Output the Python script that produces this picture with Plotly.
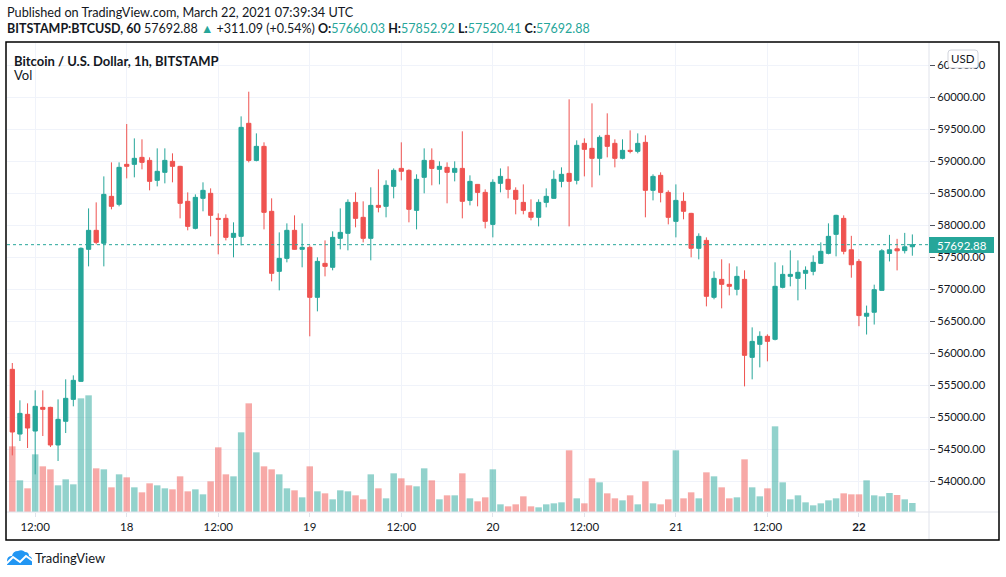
import pandas as pd
import plotly.graph_objects as go

# Hourly candles, BITSTAMP:BTCUSD, 17 Mar 2021 09:00 -> 22 Mar 2021 07:00 (UTC)
first_candle = "2021-03-17 09:00"

opens = [
    55745, 54734, 55042, 54781, 55151, 55151, 54563, 54933, 55276, 55557,
    57620, 57917, 57714, 58448, 58323, 58948, 58948, 59057, 59010, 58698,
    58823, 58995, 58917, 58370, 57948, 58417, 58495, 58104, 58104, 57807,
    57823, 59589, 59010, 59229, 58214, 57276, 57479, 57917, 57620, 57651,
    56870, 57401, 57339, 57792, 57870, 58354, 58120, 57792, 58307, 58292,
    58604, 58885, 58854, 58229, 58745, 59010, 58870, 58901, 58823, 58885,
    58385, 58635, 58510, 58010, 58651, 58714, 58542, 58354, 58198, 58120,
    58354, 58417, 58682, 58807, 58698, 59276, 59198, 59042, 59401, 59276,
    59042, 59167, 59151, 59292, 58542, 58776, 58510, 58057, 58370, 58182,
    57636, 57760, 56870, 57151, 57073, 56995, 57151, 55932, 56136, 56261,
    56214, 57026, 57198, 57167, 57245, 57276, 57401, 57557, 57854, 58104,
    57613, 57431, 56575, 56637, 56979, 57556, 57628, 57600, 57660.03,
]
highs = [
    55844, 55261, 55214, 55417, 55417, 55160, 55276, 55589, 55651, 57651,
    58260, 58354, 58760, 58979, 58979, 59578, 59354, 59339, 59057, 59198,
    59198, 59120, 58925, 58510, 58479, 58667, 58573, 58182, 58167, 58042,
    59698, 60083, 59432, 59292, 58417, 57885, 58026, 58151, 58026, 57682,
    57495, 57760, 57901, 58260, 58401, 58510, 58370, 58589, 58870, 58698,
    58885, 59292, 58870, 58792, 59198, 59198, 58995, 58979, 58995, 59464,
    58776, 58640, 58557, 58714, 58885, 58917, 58589, 58635, 58401, 58401,
    58573, 58854, 58901, 59964, 59323, 59354, 59901, 59401, 59745, 59339,
    59339, 59479, 59432, 59401, 58792, 58823, 58542, 58635, 58510, 58190,
    57870, 57807, 57276, 57464, 57401, 57354, 57292, 56401, 56339, 56292,
    57417, 57370, 57604, 57448, 57354, 57526, 57729, 58026, 58160, 58151,
    57831, 57467, 56741, 57068, 57623, 57846, 57784, 57877, 57852.92,
]
lows = [
    54401, 54625, 54516, 54104, 54703, 54531, 54313, 54750, 55167, 55550,
    57354, 57698, 57354, 58245, 58292, 58729, 58745, 58870, 58542, 58604,
    58651, 58667, 58104, 57917, 57932, 58214, 57823, 57542, 57760, 57495,
    57682, 58979, 58995, 57932, 57120, 56979, 57417, 57615, 57339, 56261,
    56651, 57198, 57292, 57620, 57604, 57964, 57729, 57448, 58198, 58120,
    58417, 58698, 58042, 57932, 58495, 58620, 58635, 58339, 58682, 58104,
    58307, 58292, 57948, 57807, 58510, 58417, 58167, 58167, 58073, 57979,
    58276, 58410, 58589, 57979, 58635, 58760, 58589, 58776, 59057, 58901,
    59026, 59120, 59120, 58120, 58385, 58354, 58010, 57807, 58089, 57495,
    57464, 56729, 56839, 56698, 56901, 56901, 55479, 55589, 55776, 55870,
    56198, 57010, 57042, 56823, 56995, 57214, 57395, 57542, 57510, 57542,
    57177, 56419, 56289, 56445, 56975, 57431, 57291, 57556, 57520.41,
]
closes = [
    54766, 55057, 54828, 55167, 55120, 54563, 54964, 55292, 55573, 57636,
    57917, 57729, 58479, 58292, 58901, 58917, 59042, 58979, 58682, 58839,
    59010, 58917, 58339, 57979, 58432, 58542, 58151, 58089, 57807, 57870,
    59526, 59010, 59229, 58198, 57245, 57479, 57917, 57620, 57651, 56870,
    57432, 57354, 57807, 57885, 58354, 58104, 57792, 58307, 58276, 58620,
    58854, 58839, 58245, 58714, 59010, 58885, 58917, 58823, 58885, 58370,
    58682, 58510, 58057, 58667, 58760, 58557, 58401, 58229, 58120, 58354,
    58448, 58714, 58792, 58682, 59245, 59182, 59042, 59370, 59229, 59042,
    59167, 59151, 59276, 58542, 58760, 58510, 58120, 58385, 58214, 57636,
    57823, 56886, 57167, 57073, 57042, 57198, 55964, 56182, 56261, 56182,
    57042, 57229, 57229, 57261, 57292, 57417, 57589, 57823, 58151, 57589,
    57379, 56585, 56621, 56990, 57597, 57613, 57597, 57660, 57692.88,
]
volumes = [
    197, 95, 71, 173, 137, 128, 80, 98, 83, 341,
    350, 131, 128, 74, 113, 104, 74, 59, 86, 80,
    71, 68, 107, 62, 68, 53, 92, 194, 113, 107,
    239, 326, 179, 137, 128, 113, 71, 65, 44, 137,
    62, 56, 38, 65, 62, 50, 38, 113, 71, 41,
    116, 101, 80, 77, 131, 95, 38, 50, 50, 116,
    41, 32, 44, 128, 23, 17, 23, 47, 17, 14,
    23, 26, 29, 185, 41, 26, 101, 89, 56, 41,
    35, 50, 23, 92, 26, 23, 38, 185, 41, 59,
    41, 119, 107, 74, 41, 44, 158, 74, 47, 71,
    257, 89, 38, 50, 29, 20, 26, 35, 41, 56,
    53, 53, 95, 50, 47, 57, 51, 38, 27,
]

time_tick_values = [
    "2021-03-17 12:00", "2021-03-18 00:00", "2021-03-18 12:00", "2021-03-19 00:00",
    "2021-03-19 12:00", "2021-03-20 00:00", "2021-03-20 12:00", "2021-03-21 00:00",
    "2021-03-21 12:00", "2021-03-22 00:00",
]
time_tick_labels = ["12:00", "18", "12:00", "19", "12:00", "20", "12:00", "21", "12:00", "<b>22</b>"]
price_ticks = [54000, 54500, 55000, 55500, 56000, 56500, 57000, 57500,
               58000, 58500, 59000, 59500, 60000, 60500]
last_price = 57692.88

GREEN = "#26a69a"
RED = "#ef5350"
TEXT = "#131722"
GRID = "#f0f3fa"
BORDER = "#e0e3eb"
FONT = "Lato"

# Plot area in page pixels (figure is 1006 x 577)
W, H = 1006, 577
PLOT_L, PLOT_R, PLOT_T, PLOT_B = 7, 929, 43, 512


def px_x(x):
    """Page pixel -> paper x."""
    return (x - PLOT_L) / (PLOT_R - PLOT_L)


def px_y(y):
    """Page pixel -> paper y."""
    return (PLOT_B - y) / (PLOT_B - PLOT_T)


def pixel_path(commands):
    """Build an SVG path in paper coords from (cmd, [x, y, ...]) pixel tuples."""
    parts = []
    for cmd, pts in commands:
        coords = []
        for i in range(0, len(pts), 2):
            coords.append(f"{px_x(pts[i]):.5f},{px_y(pts[i + 1]):.5f}")
        parts.append(cmd + " " + " ".join(coords))
    return " ".join(parts) + " Z"


def build_figure() -> go.Figure:
    times = pd.date_range(first_candle, periods=len(opens), freq="h")
    vol_colors = [
        "rgba(38,166,154,0.5)" if c >= o else "rgba(239,83,80,0.5)"
        for o, c in zip(opens, closes)
    ]

    fig = go.Figure()

    # Volume on the base (hidden) axis so the candles sit on top of it
    fig.add_trace(go.Bar(
        x=times, y=volumes, yaxis="y",
        marker=dict(color=vol_colors, line=dict(width=0)),
        width=0.85 * 3600 * 1000,
        hoverinfo="skip",
    ))

    fig.add_trace(go.Candlestick(
        x=times, open=opens, high=highs, low=lows, close=closes, yaxis="y2",
        increasing=dict(line=dict(color=GREEN, width=1), fillcolor=GREEN),
        decreasing=dict(line=dict(color=RED, width=1), fillcolor=RED),
        whiskerwidth=0,
        hoverinfo="skip",
    ))

    shapes = [
        # last price dotted line
        dict(type="line", xref="paper", yref="y2", x0=0, x1=1, y0=last_price, y1=last_price,
             line=dict(color=GREEN, width=1, dash="dot"), layer="above"),
        # time axis and price axis separators
        dict(type="line", xref="paper", yref="paper", x0=px_x(6), x1=px_x(999),
             y0=px_y(512), y1=px_y(512), line=dict(color=BORDER, width=1)),
        dict(type="line", xref="paper", yref="paper", x0=px_x(929), x1=px_x(929),
             y0=px_y(42), y1=px_y(540), line=dict(color=BORDER, width=1)),
        # chart frame
        dict(type="rect", xref="paper", yref="paper", x0=px_x(6), x1=px_x(999),
             y0=px_y(540), y1=px_y(42), line=dict(color="#000000", width=1.5)),
        # last price label box
        dict(type="rect", xref="paper", yref="paper", x0=px_x(929), x1=px_x(994),
             y0=px_y(253), y1=px_y(237), fillcolor=GREEN, line=dict(width=0), layer="above"),
        # USD button
        dict(type="path", xref="paper", yref="paper", layer="above",
             path=pixel_path([("M", [951, 50]), ("L", [975, 50]), ("Q", [978, 50, 978, 53]),
                              ("L", [978, 65]), ("Q", [978, 68, 975, 68]), ("L", [951, 68]),
                              ("Q", [948, 68, 948, 65]), ("L", [948, 53]), ("Q", [948, 50, 951, 50])]),
             fillcolor="#ffffff", line=dict(color="#d1d4dc", width=1)),
        # TradingView logo (cloud + chart line)
        dict(type="path", xref="paper", yref="paper",
             path=pixel_path([("M", [7, 565]), ("L", [7, 561]), ("Q", [7, 556, 12, 556]),
                              ("Q", [13, 551, 18, 551]), ("Q", [22, 549, 25, 552]),
                              ("Q", [29, 552, 29, 556]), ("Q", [33, 557, 32, 562]),
                              ("L", [32, 565])]),
             fillcolor="#2196f3", line=dict(width=0)),
        dict(type="path", xref="paper", yref="paper",
             path="M " + " L ".join(f"{px_x(a):.5f},{px_y(b):.5f}" for a, b in
                                    [(6, 564), (13, 557), (20, 562), (26, 556), (33, 561)]),
             line=dict(color="#ffffff", width=2)),
    ]

    def note(text, x, y, size=12.5, color=TEXT, anchor="left"):
        return dict(text=text, x=px_x(x), y=px_y(y), xref="paper", yref="paper",
                    xanchor=anchor, yanchor="middle", showarrow=False,
                    font=dict(family=FONT, size=size, color=color))

    teal = lambda s: f"<span style='color:{GREEN}'>{s}</span>"
    header2 = (
        "<b>BITSTAMP:BTCUSD, 60</b> 57692.88 " + teal("▲") + " +311.09 (+0.54%) "
        "<b>O:</b>" + teal("57660.03") + " <b>H:</b>" + teal("57852.92")
        + " <b>L:</b>" + teal("57520.41") + " <b>C:</b>" + teal("57692.88")
    )

    annotations = [
        note("Published on TradingView.com, March 22, 2021 07:39:34 UTC", 5, 12, size=12.7),
        note(header2, 5, 29, size=12.5),
        note("<b>Bitcoin / U.S. Dollar, 1h, BITSTAMP</b>", 12, 61, size=13),
        note("Vol", 12, 75, size=13),
        note("USD", 963, 58.5, size=11.5, anchor="center"),
        note(f"{last_price:.2f}", 961.5, 245, size=11.5, color="#ffffff", anchor="center"),
        note("TradingView", 33, 558, size=13),
    ]

    fig.update_layout(
        width=W, height=H,
        margin=dict(l=PLOT_L, r=W - PLOT_R, t=PLOT_T, b=H - PLOT_B, pad=0),
        paper_bgcolor="#ffffff", plot_bgcolor="#ffffff",
        showlegend=False, hovermode=False,
        boxgap=0.3, boxgroupgap=0.2,
        font=dict(family=FONT, size=12, color=TEXT),
        xaxis=dict(
            type="date",
            range=["2021-03-17 08:18:20", "2021-03-22 09:11:00"],
            rangeslider=dict(visible=False),
            tickvals=time_tick_values, ticktext=time_tick_labels,
            showgrid=True, gridcolor=GRID, gridwidth=1,
            ticks="outside", ticklen=4, tickcolor=BORDER,
            tickfont=dict(family=FONT, size=11.5, color=TEXT),
            showline=False, zeroline=False, fixedrange=True, automargin=False,
        ),
        yaxis=dict(range=[0, 1407], visible=False, fixedrange=True),
        yaxis2=dict(
            overlaying="y", side="right",
            range=[53516, 60844],
            tickvals=price_ticks, tickformat=".2f",
            showgrid=True, gridcolor=GRID, gridwidth=1,
            ticks="outside", ticklen=5, tickcolor="#50535e",
            tickfont=dict(family=FONT, size=11.2, color=TEXT),
            showline=False, zeroline=False, fixedrange=True, automargin=False,
        ),
        shapes=shapes,
        annotations=annotations,
    )
    return fig


def main():
    fig = build_figure()
    # drop the page's default body margin so the figure sits at the top-left corner
    fig.write_html(
        "out.html",
        config={"displayModeBar": False},
        post_script="document.body.style.margin='0';",
    )


if __name__ == "__main__":
    main()
